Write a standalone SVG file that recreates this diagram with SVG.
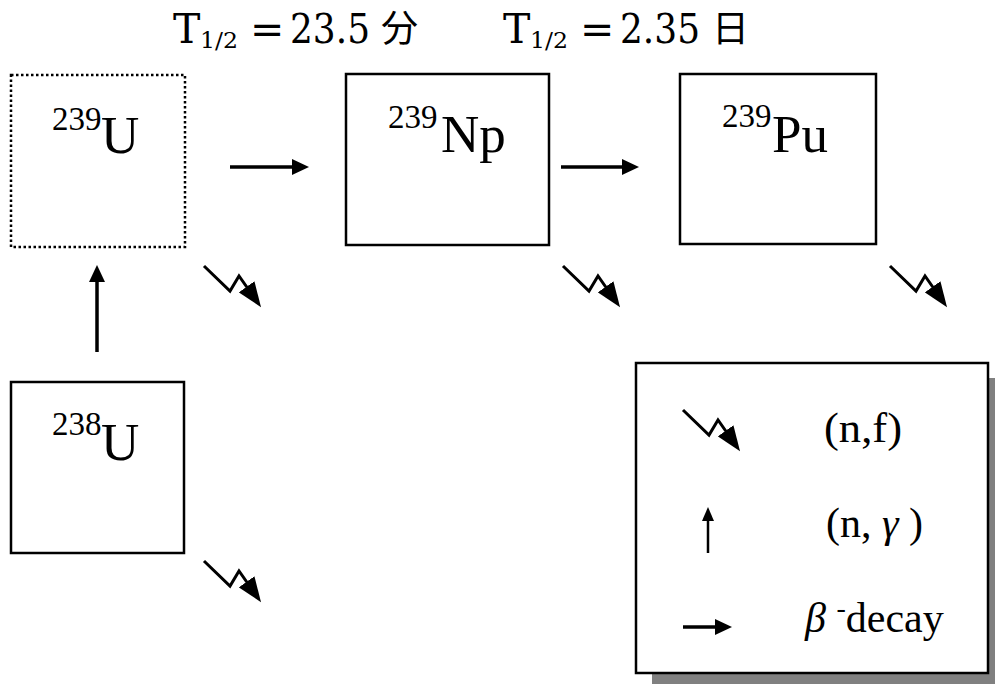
<svg xmlns="http://www.w3.org/2000/svg" width="995" height="684" viewBox="0 0 995 684">
  <style>
    .box { fill: #ffffff; stroke: #000000; stroke-width: 2.5; }
    .dotted { stroke-dasharray: 2.5 2.5; }
    .lbl { font-family: "Liberation Serif", "Times New Roman", serif; fill: #000000; }
    .title { font-family: "DejaVu Serif", "Liberation Serif", serif; fill: #000000; }
    .cjk { font-family: "Noto Sans CJK JP", "Noto Sans CJK SC", sans-serif; fill: #000000; }
    .arr { fill: none; stroke: #000000; stroke-width: 3.5; }
    .thin { fill: none; stroke: #000000; stroke-width: 2.5; }
    .fis { fill: none; stroke: #000000; stroke-width: 3; stroke-linejoin: miter; }
  </style>
  <defs>
    <marker id="head" markerUnits="userSpaceOnUse" markerWidth="17" markerHeight="16" refX="7" refY="8" orient="auto">
      <path d="M0,0 L17,8 L0,16 z" fill="#000000"/>
    </marker>
    <marker id="headThin" markerUnits="userSpaceOnUse" markerWidth="14" markerHeight="12" refX="5" refY="6" orient="auto">
      <path d="M0,0 L14,6 L0,12 z" fill="#000000"/>
    </marker>
    <marker id="headFis" markerUnits="userSpaceOnUse" markerWidth="25" markerHeight="19" refX="10" refY="9.5" orient="auto">
      <path d="M0,0 L25,9.5 L0,19 z" fill="#000000"/>
    </marker>
    <polyline id="fission" class="fis" points="0,0 26,25 35,10 48.4,29" marker-end="url(#headFis)"/>
  </defs>

  <!-- titles -->
  <g id="title1">
    <text class="title" x="173" y="43" font-size="41">T</text>
    <text class="title" x="200" y="48" font-size="23" textLength="38" lengthAdjust="spacingAndGlyphs">1/2</text>
    <text class="title" x="250" y="43" font-size="41">=</text>
    <text class="title" x="290" y="43" font-size="41" textLength="80" lengthAdjust="spacingAndGlyphs">23.5</text>
    <text class="cjk" x="381" y="42" font-size="37">分</text>
  </g>
  <g id="title2">
    <text class="title" x="503" y="43" font-size="41">T</text>
    <text class="title" x="530" y="48" font-size="23" textLength="38" lengthAdjust="spacingAndGlyphs">1/2</text>
    <text class="title" x="580" y="43" font-size="41">=</text>
    <text class="title" x="620" y="43" font-size="41" textLength="80" lengthAdjust="spacingAndGlyphs">2.35</text>
    <text class="cjk" x="712" y="42" font-size="37">日</text>
  </g>

  <!-- nodes -->
  <g id="U239">
    <rect class="box dotted" x="11" y="75" width="174" height="172"/>
    <text class="lbl" x="52" y="130" font-size="33">239</text>
    <text class="lbl" x="101" y="153" font-size="53">U</text>
  </g>
  <g id="U238">
    <rect class="box" x="11" y="382" width="173" height="171"/>
    <text class="lbl" x="52" y="435" font-size="33">238</text>
    <text class="lbl" x="101" y="460" font-size="53">U</text>
  </g>
  <g id="Np239">
    <rect class="box" x="346" y="74" width="203" height="171"/>
    <text class="lbl" x="388" y="128" font-size="33">239</text>
    <text class="lbl" x="441" y="152" font-size="53">Np</text>
  </g>
  <g id="Pu239">
    <rect class="box" x="680" y="74" width="196" height="170"/>
    <text class="lbl" x="722" y="127" font-size="33">239</text>
    <text class="lbl" x="772" y="152" font-size="53">Pu</text>
  </g>

  <!-- connectors -->
  <g id="connectors">
    <line class="arr" x1="230" y1="167" x2="299" y2="167" marker-end="url(#head)"/>
    <line class="arr" x1="561" y1="167" x2="629" y2="167" marker-end="url(#head)"/>
    <line class="arr" x1="97" y1="352" x2="97" y2="275" marker-end="url(#head)"/>
    <use href="#fission" x="204" y="266"/>
    <use href="#fission" x="563" y="266"/>
    <use href="#fission" x="890" y="266"/>
    <use href="#fission" x="204" y="561"/>
  </g>

  <!-- legend -->
  <g id="legend">
    <rect x="652" y="378" width="345" height="310" fill="#808080"/>
    <rect class="box" x="636" y="363" width="352" height="310"/>
    <use href="#fission" x="683" y="410"/>
    <text class="lbl" x="824" y="442" font-size="42" textLength="78" lengthAdjust="spacingAndGlyphs">(n,f)</text>
    <line class="thin" x1="708" y1="553" x2="708" y2="516" marker-end="url(#headThin)"/>
    <text class="lbl" x="826" y="537" font-size="42">(n, <tspan font-style="italic">γ</tspan> )</text>
    <line class="arr" x1="683" y1="627" x2="722" y2="627" marker-end="url(#head)"/>
    <text class="lbl" x="805" y="632" font-size="42"><tspan font-style="italic">β</tspan> <tspan dy="-15" font-size="28">-</tspan><tspan dy="15">decay</tspan></text>
  </g>
</svg>
